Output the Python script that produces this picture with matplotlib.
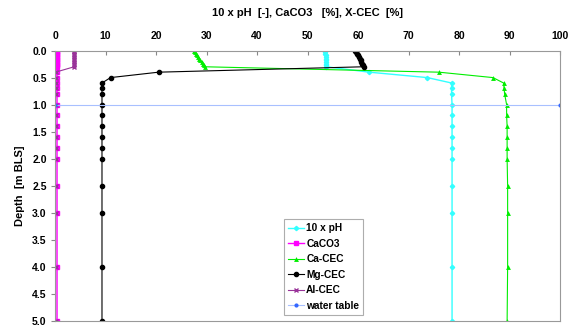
import matplotlib
matplotlib.use("Agg")
import matplotlib.pyplot as plt
from matplotlib.ticker import FormatStrFormatter

plt.rcParams['font.family'] = ['Liberation Sans', 'DejaVu Sans']
plt.rcParams['font.weight'] = 'bold'

# depth of the samples [m BLS]
depth = [0.0, 0.03, 0.06, 0.09, 0.12, 0.15, 0.18, 0.21, 0.24, 0.27, 0.30,
         0.4, 0.5, 0.6, 0.7, 0.8, 1.0, 1.2, 1.4, 1.6, 1.8, 2.0, 2.5, 3.0, 4.0, 5.0]

ph10 = [53.5, 53.5, 53.5, 53.6, 53.6, 53.6, 53.6, 53.7, 53.7, 53.7, 53.7,
        62.2, 73.7, 78.5, 78.5, 78.5, 78.6, 78.6, 78.6, 78.6, 78.6, 78.6, 78.6, 78.6, 78.6, 78.6]
caco3 = [0.3, 0.3, 0.3, 0.3, 0.3, 0.3, 0.3, 0.3, 0.3, 0.3, 0.3,
         0.4, 0.4, 0.4, 0.4, 0.4, 0.4, 0.4, 0.4, 0.4, 0.4, 0.4, 0.4, 0.4, 0.4, 0.4]
ca_cec = [27.6, 27.8, 28.0, 28.2, 28.4, 28.6, 28.8, 29.0, 29.2, 29.4, 29.6,
          76.0, 86.7, 88.8, 88.9, 89.0, 89.4, 89.4, 89.5, 89.5, 89.5, 89.5, 89.6, 89.6, 89.6, 89.5]
mg_cec = [59.4, 59.6, 59.8, 60.0, 60.1, 60.3, 60.5, 60.6, 60.8, 61.0, 61.1,
          20.5, 11.0, 9.3, 9.3, 9.3, 9.3, 9.3, 9.3, 9.3, 9.3, 9.3, 9.3, 9.3, 9.3, 9.3]
al_cec = [3.7, 3.7, 3.7, 3.7, 3.7, 3.8, 3.8, 3.8, 3.8, 3.8, 3.8,
          0.1, 0.1, 0.1, 0.1, 0.1, 0.1, 0.1, 0.1, 0.1, 0.1, 0.1, 0.1, 0.1, 0.1, 0.1]

# water table
wt_x = [0, 100]
wt_depth = [1.0, 1.0]

fig = plt.figure(figsize=(5.76, 3.26), dpi=100)
ax = fig.add_axes([0.0955, 0.015, 0.877, 0.83])

ax.plot(ph10, depth, color='#33FFFF', lw=1, marker='D', ms=2.2, label='10 x pH')
ax.plot(caco3, depth, color='#FF00FF', lw=1, marker='s', ms=3.2, label='CaCO3')
ax.plot(ca_cec, depth, color='#00EE00', lw=0.8, marker='^', ms=3.5, label='Ca-CEC',
        markeredgewidth=0)
ax.plot(mg_cec, depth, color='black', lw=0.8, marker='o', ms=3, label='Mg-CEC',
        markerfacecolor='black')
ax.plot(al_cec, depth, color='#993399', lw=0.8, marker='x', ms=3, label='Al-CEC')
ax.plot(wt_x, wt_depth, color='#A8C0FF', lw=0.8, marker='o', ms=2,
        markerfacecolor='#3366FF', markeredgecolor='#3366FF', label='water table')

ax.set_xlim(0, 100)
ax.set_ylim(5, 0)
ax.set_xticks(range(0, 101, 10))
ax.set_yticks([i * 0.5 for i in range(11)])
ax.yaxis.set_major_formatter(FormatStrFormatter('%.1f'))
ax.xaxis.tick_top()
ax.xaxis.set_label_position('top')
ax.tick_params(axis='both', labelsize=7.5, length=3, color='#888888', pad=3)
ax.tick_params(axis='x', direction='in', pad=7)

for s in ax.spines.values():
    s.set_color('#999999')
    s.set_linewidth(0.8)

ax.set_xlabel('10 x pH  [-], CaCO3   [%], X-CEC  [%]', fontsize=8,
              fontweight='bold', labelpad=11)
ax.set_ylabel('Depth  [m BLS]', fontsize=8, fontweight='bold', labelpad=5)

leg = ax.legend(loc='upper left', bbox_to_anchor=(0.453, 0.377), fontsize=7.3,
                frameon=True, fancybox=False, handlelength=1.6, labelspacing=0.55,
                borderpad=0.4, handletextpad=0.2, borderaxespad=0)
leg.get_frame().set_edgecolor('#999999')
leg.get_frame().set_linewidth(0.8)

fig.savefig('out.png', dpi=100)
